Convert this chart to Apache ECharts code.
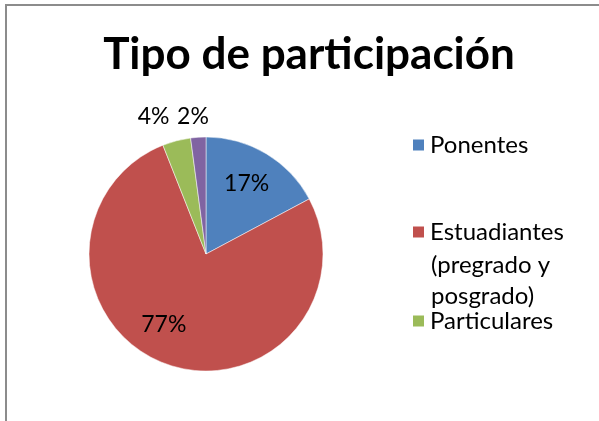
<!DOCTYPE html>
<html>
<head>
<meta charset="utf-8">
<script src="https://cdn.jsdelivr.net/npm/echarts@6/dist/echarts.min.js"></script>
<style>
  html, body { margin: 0; padding: 0; background: #fff; }
  #frame {
    position: absolute; left: 5px; top: 4px; width: 700px; height: 500px;
    border-left: 2px solid #8c8c8c; border-top: 2px solid #8c8c8c;
  }
  #chart { position: absolute; left: 0; top: 0; width: 599px; height: 421px; }
</style>
</head>
<body>
<div id="frame"></div>
<div id="chart"></div>
<script>
// Data (percent of participants)
const categories = ['Ponentes', 'Estuadiantes', 'Particulares', 'Otros'];
const values = [17.2, 76.8, 3.9, 2.1];
const colors = ['#4F81BD', '#C0504D', '#9BBB59', '#8064A2'];
// rest of the wrapped legend entry for "Estuadiantes"
const legendWrap = '(pregrado y\nposgrado)';

// label nudges so they sit where Excel put them
const labelOffsets = [[9, -18], [-21, 13], [-37, -78], [-9, -76]];

const font = 'Lato, "Open Sans", sans-serif';

const chart = echarts.init(document.getElementById('chart'));

const legendStyle = {
  orient: 'vertical',
  left: 406,
  itemWidth: 13,
  itemHeight: 13,
  itemGap: 8,
  icon: 'rect',
  selectedMode: false,
  textStyle: { fontFamily: font, fontSize: 24, color: '#000' }
};

chart.setOption({
  animation: false,
  title: {
    text: 'Tipo de participación',
    left: 304,
    textAlign: 'center',
    top: 28,
    textStyle: { fontFamily: font, fontSize: 44, fontWeight: 'bold', color: '#000' }
  },
  legend: [
    Object.assign({}, legendStyle, { top: 128, data: [categories[0]] }),
    Object.assign({}, legendStyle, { top: 215, data: [categories[1]] }),
    Object.assign({}, legendStyle, { top: 304, data: [categories[2]] })
  ],
  graphic: [{
    type: 'text',
    left: 431,
    top: 250,
    style: { text: legendWrap, fontFamily: font, fontSize: 24, lineHeight: 31, fill: '#000' }
  }],
  color: colors,
  series: [{
    type: 'pie',
    center: [206, 254],
    radius: 117,
    startAngle: 90,
    clockwise: true,
    itemStyle: { borderColor: '#fff', borderWidth: 0.5 },
    label: {
      position: 'inside',
      fontFamily: font,
      fontSize: 23,
      color: '#000',
      formatter: p => Math.round(p.percent) + '%'
    },
    labelLine: { show: false },
    emphasis: { disabled: true },
    data: categories.map((name, i) => ({
      name: name,
      value: values[i],
      label: { offset: labelOffsets[i] }
    }))
  }]
});
</script>
</body>
</html>
